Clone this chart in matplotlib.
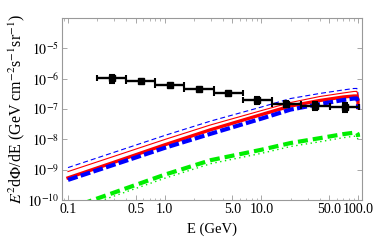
import numpy as np
import matplotlib
matplotlib.use('Agg')
import matplotlib.pyplot as plt
from matplotlib.ticker import FixedLocator, FixedFormatter, LogLocator, NullFormatter

plt.rcParams['font.family'] = ['Liberation Serif', 'DejaVu Serif']
plt.rcParams['mathtext.fontset'] = 'stix'
plt.rcParams['font.size'] = 10

# model curves, E in GeV, E^2 dPhi/dE in GeV cm^-2 s^-1 sr^-1
energy = [0.1, 0.3, 1.0, 3.0, 10.0, 20.0, 40.0, 70.0, 90.0, 97.0, 99.5, 100.0]
blue_thin = [1.17e-9, 3.74e-9, 1.34e-8, 4.01e-8, 1.16e-7, 2.21e-7, 3.24e-7, 4.23e-7, 4.73e-7, 4.75e-7, 3.6e-7, 1.5e-7]
red_thin = [8.65e-10, 2.76e-9, 9.85e-9, 3.0e-8, 8.85e-8, 1.63e-7, 2.57e-7, 3.36e-7, 3.77e-7, 3.8e-7, 2.9e-7, 1.3e-7]
red_thick = [5.36e-10, 1.76e-9, 6.58e-9, 2.08e-8, 6.53e-8, 1.25e-7, 1.90e-7, 2.48e-7, 2.67e-7, 2.68e-7, 2.1e-7, 1.1e-7]
blue_thick = [4.6e-10, 1.46e-9, 5.23e-9, 1.53e-8, 4.81e-8, 9.55e-8, 1.45e-7, 1.97e-7, 2.21e-7, 2.22e-7, 1.8e-7, 1.0e-7]
green_thick = [5.1e-11, 1.76e-10, 6.83e-10, 2.06e-9, 4.53e-9, 7.54e-9, 1.09e-8, 1.48e-8, 1.65e-8, 1.66e-8, 1.45e-8, 1.2e-8]
green_dot = [3.9e-11, 1.35e-10, 5.2e-10, 1.58e-9, 3.45e-9, 5.8e-9, 8.3e-9, 1.13e-8, 1.26e-8, 1.27e-8, 1.0e-8, 8.0e-9]

# data points (bins of factor 2 from 0.2 GeV)
bin_lo = [0.2, 0.4, 0.8, 1.6, 3.2, 6.4, 12.8, 25.6, 51.2]
bin_hi = [0.4, 0.8, 1.6, 3.2, 6.4, 12.8, 25.6, 51.2, 102.4]
flux = [1.02e-6, 8.27e-7, 5.96e-7, 4.39e-7, 3.41e-7, 1.94e-7, 1.51e-7, 1.30e-7, 1.17e-7]
flux_err = [0.28e-6, 0.9e-7, 0.4e-7, 0.3e-7, 0.25e-7, 0.5e-7, 0.33e-7, 0.4e-7, 0.38e-7]

fig = plt.figure(figsize=(3.74, 2.47), dpi=100)
ax = fig.add_axes([0.1658, 0.1903, 0.802, 0.737])

ax.plot(energy, blue_thin, color='blue', lw=0.8, dashes=(4.5, 2.7))
ax.plot(energy, red_thin, color='red', lw=0.8)
ax.plot(energy, red_thick, color='red', lw=2.4)
ax.plot(energy, blue_thick, color='blue', lw=3.0, dashes=(2.4, 0.8))
ax.plot(energy, green_thick, color='#00ee00', lw=3.0, dashes=(2.4, 1.2))
ax.plot(energy, green_dot, color='#00ee00', lw=1.0, dashes=(1, 2.5))

lo = np.array(bin_lo)
hi = np.array(bin_hi)
xc = np.sqrt(lo * hi)
ax.errorbar(xc, flux, xerr=[xc - lo, hi - xc], yerr=flux_err, fmt='s', color='black',
            ms=4.2, elinewidth=1.7, capsize=2.4, capthick=1.5, zorder=5)

ax.set_xscale('log')
ax.set_yscale('log')
ax.set_xlim(0.0867, 109.6)
ax.set_ylim(1e-10, 1e-4)

xt = [0.1, 0.5, 1.0, 5.0, 10.0, 50.0, 100.0]
ax.xaxis.set_major_locator(FixedLocator(xt))
ax.xaxis.set_major_formatter(FixedFormatter(['0.1', '0.5', '1.0', '5.0', '10.0', '50.0', '100.0']))
ax.xaxis.set_minor_locator(LogLocator(base=10, subs=np.arange(2, 10)))
ax.xaxis.set_minor_formatter(NullFormatter())

yt = [1e-10, 1e-9, 1e-8, 1e-7, 1e-6, 1e-5]
ax.yaxis.set_major_locator(FixedLocator(yt))
ax.yaxis.set_major_formatter(FixedFormatter([r'$10^{-10}$', r'$10^{-9}$', r'$10^{-8}$',
                                             r'$10^{-7}$', r'$10^{-6}$', r'$10^{-5}$']))
ax.yaxis.set_minor_locator(LogLocator(base=10, subs=np.arange(2, 10)))
ax.yaxis.set_minor_formatter(NullFormatter())

for s in ax.spines.values():
    s.set_color('#999999')
    s.set_linewidth(0.8)
ax.tick_params(which='both', direction='in', top=True, right=True, color='#999999', labelsize=10, pad=2)
ax.tick_params(which='major', length=3.5, width=0.6)
ax.tick_params(which='minor', length=1.8, width=0.5)

ax.set_xlabel('E (GeV)', fontsize=10.5, labelpad=5)
ax.set_ylabel(r'$E^2$d$\Phi$/dE (GeV cm$^{-2}$s$^{-1}$sr$^{-1}$)', fontsize=11.5, labelpad=0)

fig.savefig('out.png', dpi=100)
